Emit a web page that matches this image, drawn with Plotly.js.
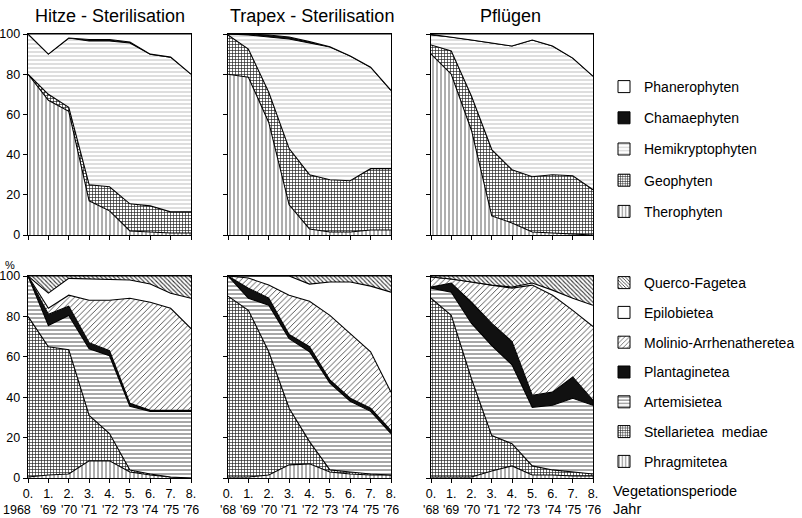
<!DOCTYPE html>
<html>
<head>
<meta charset="utf-8">
<script src="https://cdn.plot.ly/plotly-3.0.1.min.js"></script>
<style>html,body{margin:0;padding:0;background:#fff}#chart{width:802px;height:518px}</style>
</head>
<body>
<div id="chart"></div>
<script>
// ---------- DATA ----------
const years = [0, 1, 2, 3, 4, 5, 6, 7, 8];
const periodLabels = ['0.', '1.', '2.', '3.', '4.', '5.', '6.', '7.', '8.'];
const yearLabelsLeft = ['1968', "'69", "'70", "'71", "'72", "'73", "'74", "'75", "'76"];
const yearLabelsOther = ["'68", "'69", "'70", "'71", "'72", "'73", "'74", "'75", "'76"];
const panelTitles = ['Hitze - Sterilisation', 'Trapex - Sterilisation', 'Pflügen'];

// Lebensformen (top row), shares in %
const lifeForms = ['Therophyten', 'Geophyten', 'Hemikryptophyten', 'Chamaephyten', 'Phanerophyten'];
const hitzeThero = [80, 67, 61.5, 17, 12, 2, 1.5, 1, 1];
const hitzeGeo   = [0, 3, 2, 8, 12, 13.5, 13, 10.5, 10.5];
const hitzeHemi  = [20, 20, 34.5, 71.5, 72.5, 80, 75.5, 77, 68.5];
const hitzeChama = [0, 0, 0, 0.8, 0.8, 0.5, 0, 0, 0];
const hitzePhan  = [0, 10, 2, 2.7, 2.7, 4, 10, 11.5, 20];

const trapexThero = [80, 78.5, 56, 15, 3, 1.5, 1.5, 2.5, 2.5];
const trapexGeo   = [19.5, 14, 15, 28, 27, 26, 25.5, 30.5, 30.5];
const trapexHemi  = [0.5, 7, 27.5, 54.5, 65.5, 66, 62, 50.5, 39];
const trapexChama = [0, 0.5, 1, 1, 0.7, 0.2, 0, 0, 0];
const trapexPhan  = [0, 0, 0.5, 1.5, 3.8, 6.3, 11, 16.5, 28];

const pfluegenThero = [90, 80, 52, 9.5, 6, 1.5, 1, 0.5, 0];
const pfluegenGeo   = [4.5, 11.5, 17, 33, 26.5, 27.5, 29, 29, 22.5];
const pfluegenHemi  = [5, 7, 28, 53, 61.5, 68, 64, 58.5, 56.5];
const pfluegenChama = [0.3, 0, 0, 0, 0, 0, 0, 0, 0];
const pfluegenPhan  = [0.2, 1.5, 3, 4.5, 6, 3, 6, 12, 21];

// Pflanzengesellschaften (bottom row), shares in %
const classes = ['Phragmitetea', 'Stellarietea  mediae', 'Artemisietea', 'Plantaginetea', 'Molinio-Arrhenatheretea', 'Epilobietea', 'Querco-Fagetea'];
const hitzePhrag = [0.5, 1.5, 2, 8.5, 8.5, 3, 1.5, 0.5, 0];
const hitzeStell = [79.5, 63.5, 61.5, 22.5, 13.5, 1, 0.5, 0, 0];
const hitzeArtem = [20, 10.5, 17, 33, 38.5, 31.5, 31, 32.5, 33];
const hitzePlant = [0, 5.5, 4.5, 3, 2.5, 1.5, 0.5, 0.5, 0.5];
const hitzeMolin = [0, 3, 5.5, 21, 25, 52, 53.5, 50.5, 40.5];
const hitzeEpil  = [0, 7.5, 8.3, 10.5, 10, 9, 9, 7.5, 15];
const hitzeQuer  = [0, 8.5, 1.2, 1.5, 2, 2, 4, 8.5, 11];

const trapexPhrag = [0.5, 0.5, 1.5, 6.5, 7, 3, 2, 1.5, 1.5];
const trapexStell = [89.5, 82.5, 61, 28, 11, 1, 1, 0.5, 0];
const trapexArtem = [10, 6, 23, 34.5, 44.5, 43, 35, 31, 20.5];
const trapexPlant = [0, 5, 3.5, 2, 2.5, 1.5, 1.5, 1.5, 1.5];
const trapexMolin = [0, 5, 6.5, 19.5, 22.5, 32, 32, 28, 19];
const trapexEpil  = [0, 1, 4.5, 9.5, 8.5, 16.5, 25.5, 32.5, 49.5];
const trapexQuer  = [0, 0, 0, 0, 4, 3, 3, 5, 8];

const pfluegenPhrag = [0.5, 0.5, 0.5, 3.5, 6, 1.5, 1.5, 1, 1];
const pfluegenStell = [88.5, 80, 48.5, 17.5, 11, 4.5, 2.5, 2, 1];
const pfluegenArtem = [5, 11.5, 27.5, 44.5, 39, 29, 32, 36.5, 34];
const pfluegenPlant = [0.5, 4.5, 10.5, 11, 11.5, 6, 6.5, 10.5, 2.5];
const pfluegenMolin = [5, 2, 10, 19, 26.5, 54.5, 48, 33, 36.5];
const pfluegenEpil  = [0, 0, 0, 0, 0.5, 1, 2.5, 6, 10.5];
const pfluegenQuer  = [0.5, 1.5, 3, 4.5, 5.5, 3.5, 7, 11, 14.5];

// ---------- STYLES ----------
const FONT = 'Liberation Sans, Arial, sans-serif';
const pat = (shape, size, solidity, fg) => ({shape: shape, size: size, solidity: solidity, fgcolor: fg, bgcolor: '#fff', fillmode: 'replace'});
const styles = {
  'Therophyten':      {pattern: pat('|', 4, 0.2, '#333')},
  'Geophyten':        {pattern: pat('+', 3, 0.4, '#222')},
  'Hemikryptophyten': {pattern: pat('-', 4, 0.14, '#888')},
  'Chamaephyten':     {color: '#111'},
  'Phanerophyten':    {color: '#fff'},
  'Phragmitetea':     {pattern: pat('|', 4, 0.2, '#333')},
  'Stellarietea  mediae': {pattern: pat('+', 3, 0.4, '#222')},
  'Artemisietea':     {pattern: pat('-', 4, 0.2, '#222')},
  'Plantaginetea':    {color: '#111'},
  'Molinio-Arrhenatheretea': {pattern: pat('/', 4, 0.22, '#444')},
  'Epilobietea':      {color: '#fff'},
  'Querco-Fagetea':   {pattern: pat('\\', 3, 0.35, '#333')}
};

const topPanels = [
  [hitzeThero, hitzeGeo, hitzeHemi, hitzeChama, hitzePhan],
  [trapexThero, trapexGeo, trapexHemi, trapexChama, trapexPhan],
  [pfluegenThero, pfluegenGeo, pfluegenHemi, pfluegenChama, pfluegenPhan]
];
const bottomPanels = [
  [hitzePhrag, hitzeStell, hitzeArtem, hitzePlant, hitzeMolin, hitzeEpil, hitzeQuer],
  [trapexPhrag, trapexStell, trapexArtem, trapexPlant, trapexMolin, trapexEpil, trapexQuer],
  [pfluegenPhrag, pfluegenStell, pfluegenArtem, pfluegenPlant, pfluegenMolin, pfluegenEpil, pfluegenQuer]
];

const traces = [];
function addPanel(axNum, seriesList, names) {
  const sfx = axNum === 1 ? '' : String(axNum);
  seriesList.forEach((vals, i) => {
    const st = styles[names[i]];
    const t = {
      type: 'scatter', mode: 'lines', x: years, y: vals, name: names[i],
      stackgroup: 'g' + axNum, xaxis: 'x' + sfx, yaxis: 'y' + sfx,
      line: {color: '#000', width: 1.1, shape: 'linear'},
      showlegend: false, hoverinfo: 'skip'
    };
    if (st.pattern) t.fillpattern = st.pattern; else t.fillcolor = st.color;
    traces.push(t);
  });
}
topPanels.forEach((p, i) => addPanel(i + 1, p, lifeForms));
bottomPanels.forEach((p, i) => addPanel(i + 4, p, classes));

// key entries: placeholder bars without a value (never drawn), only for the boxed swatches
function addLegend(names, legendId, axNum) {
  const sfx = axNum === 1 ? '' : String(axNum);
  names.slice().reverse().forEach(n => {
    const st = styles[n];
    const m = {color: st.color || '#fff', line: {color: '#000', width: 1}};
    if (st.pattern) m.pattern = st.pattern;
    traces.push({type: 'bar', x: [null], y: [null], name: n, marker: m, legend: legendId,
                 xaxis: 'x' + sfx, yaxis: 'y' + sfx,
                 legendgroup: legendId + n, showlegend: true, hoverinfo: 'skip'});
  });
}
addLegend(lifeForms, 'legend', 1);
addLegend(classes, 'legend2', 4);

// ---------- LAYOUT ----------
const W = 802, H = 518;
const colPx = [[28, 191], [228, 391], [431, 593]];
const rowPx = [[34, 235], [276, 478]];
const layout = {
  width: W, height: H, margin: {l: 0, r: 0, t: 0, b: 0},
  paper_bgcolor: '#fff', plot_bgcolor: '#fff',
  font: {family: FONT, color: '#000', size: 12},
  legend: {x: 604 / W, y: 1 - 71 / H, xanchor: 'left', yanchor: 'top', traceorder: 'grouped',
           tracegroupgap: 10, font: {size: 14, family: FONT}, bgcolor: 'rgba(0,0,0,0)', itemwidth: 30},
  legend2: {x: 604 / W, y: 1 - 267 / H, xanchor: 'left', yanchor: 'top', traceorder: 'grouped',
            tracegroupgap: 8.6, font: {size: 14, family: FONT}, bgcolor: 'rgba(0,0,0,0)', itemwidth: 30},
  annotations: [], showlegend: true
};
for (let r = 0; r < 2; r++) {
  for (let c = 0; c < 3; c++) {
    const n = r * 3 + c + 1;
    const sfx = n === 1 ? '' : String(n);
    const xa = {
      domain: [colPx[c][0] / W, colPx[c][1] / W], range: [0, 8], anchor: 'y' + sfx,
      showline: true, mirror: true, linecolor: '#000', linewidth: 1.4,
      ticks: 'outside', ticklen: 4, tickwidth: 1, tickcolor: '#000',
      tickvals: years, tickangle: 0, showgrid: false, zeroline: false, fixedrange: true
    };
    if (r === 1) {
      xa.ticktext = periodLabels;
      xa.tickfont = {size: 12.5, family: FONT};
      // second label row: the years
      const yl = c === 0 ? yearLabelsLeft : yearLabelsOther;
      yl.forEach((lab, i) => layout.annotations.push({
        text: lab, x: years[i], xref: 'x' + sfx, y: 1 - 510 / H, yref: 'paper',
        xanchor: (c === 0 && i === 0) ? 'right' : 'center', xshift: (c === 0 && i === 0) ? 5 : 0,
        yanchor: 'middle', showarrow: false, font: {size: 12.5, family: FONT}
      }));
    } else {
      xa.showticklabels = false;
    }
    const ya = {
      domain: [1 - rowPx[r][1] / H, 1 - rowPx[r][0] / H], range: [0, 100], anchor: 'x' + sfx,
      showline: true, mirror: true, linecolor: '#000', linewidth: 1.4,
      ticks: 'outside', ticklen: 4, tickwidth: 1, tickcolor: '#000',
      tickvals: [0, 20, 40, 60, 80, 100], showticklabels: c === 0,
      tickfont: {size: 12.5, family: FONT}, showgrid: false, zeroline: false, fixedrange: true
    };
    layout['xaxis' + sfx] = xa;
    layout['yaxis' + sfx] = ya;
  }
}
const titleX = [110, 312, 510];
panelTitles.forEach((t, i) => layout.annotations.push({
  text: t, x: titleX[i] / W, y: 1 - 16 / H, xref: 'paper', yref: 'paper',
  xanchor: 'center', yanchor: 'middle', showarrow: false, font: {size: 18, family: FONT}
}));
layout.annotations.push({text: '%', x: 10 / W, y: 1 - 265 / H, xref: 'paper', yref: 'paper',
  xanchor: 'center', yanchor: 'middle', showarrow: false, font: {size: 11, family: FONT}});
layout.annotations.push({text: 'Vegetationsperiode', x: 611 / W, y: 1 - 491 / H, xref: 'paper', yref: 'paper',
  xanchor: 'left', yanchor: 'middle', showarrow: false, font: {size: 14.5, family: FONT}});
layout.annotations.push({text: 'Jahr', x: 611 / W, y: 1 - 509 / H, xref: 'paper', yref: 'paper',
  xanchor: 'left', yanchor: 'middle', showarrow: false, font: {size: 14.5, family: FONT}});

Plotly.newPlot('chart', traces, layout, {staticPlot: true, displayModeBar: false});
</script>
</body>
</html>
